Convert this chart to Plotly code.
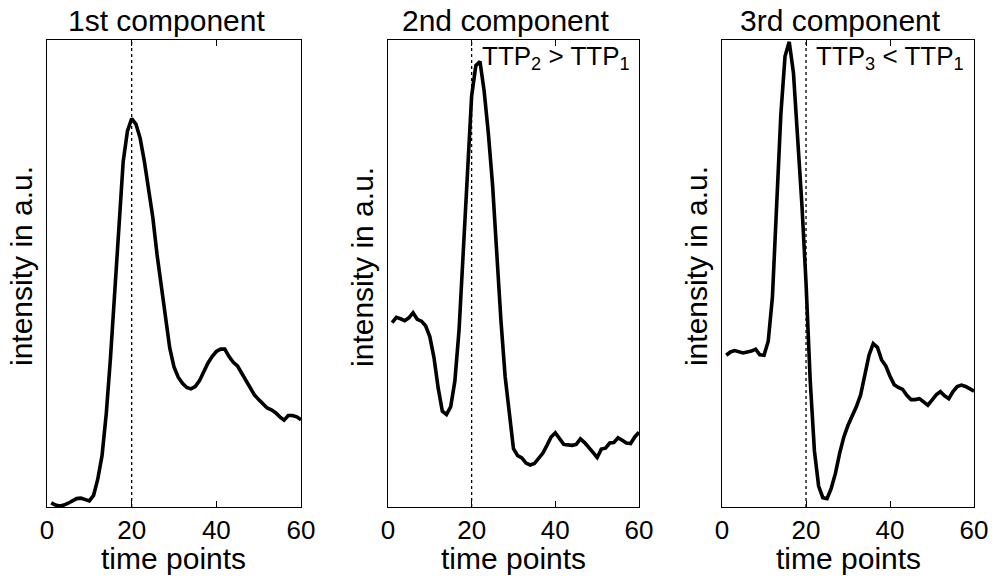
import plotly.graph_objects as go
from plotly.subplots import make_subplots

time_points = list(range(1, 61))

comp1 = [0.9, 0.4, 0.2, 0.4, 0.8, 1.3, 1.8, 1.9, 1.5, 1.3,
         2.5, 6, 11, 20, 32, 46, 60, 74, 80.5, 83.2,
         82, 79, 74, 68.5, 62, 54, 47, 40, 34, 30,
         27.8, 26.5, 25.6, 25.3, 25.8, 27, 29, 30.8, 32.2, 33.3,
         33.8, 33.8, 32.2, 31, 30.2, 28.6, 27, 25.3, 24, 23,
         22, 21.2, 20.8, 20.2, 19.3, 18.6, 19.6, 19.6, 19.3, 18.7]

comp2 = [39.5, 40.6, 40.3, 39.9, 40.5, 41.6, 40.2, 39.8, 38.8, 36.5,
         32, 25.5, 20.5, 19.8, 21.5, 27, 38, 55, 74, 88,
         94.5, 95.4, 89, 80, 69, 54, 40, 28, 19.5, 12.5,
         11, 10.5, 9.4, 9, 9.3, 10.3, 11.5, 13.2, 15, 15.9,
         14.5, 13.4, 13.3, 13.2, 13.4, 14.6, 13.8, 12.6, 11.7, 10.6,
         12.4, 12.6, 13.7, 13.8, 14.8, 14.3, 13.7, 13.6, 15, 16]

comp3 = [32.5, 33.2, 33.5, 33.2, 33, 33.2, 33.4, 33.8, 32.6, 32.5,
         35.5, 45, 66, 84, 96.5, 99.6, 93, 80, 65, 48,
         27, 12, 4.5, 2.0, 1.8, 4, 7.2, 11.5, 15, 17.5,
         19.5, 21.5, 24, 28.5, 32.5, 35, 34.2, 31.5, 30.2, 28,
         26.2, 25.6, 25.2, 23.9, 23, 23, 23.2, 22.5, 21.8, 22.9,
         24, 24.7, 23.8, 23.2, 24.7, 25.8, 26.1, 25.8, 25.3, 24.8]

titles = ["1st component", "2nd component", "3rd component"]
notes = [None, "TTP<sub>2</sub> > TTP<sub>1</sub>", "TTP<sub>3</sub> < TTP<sub>1</sub>"]
reference_time = 20
x_ticks = [0, 20, 40, 60]
x_label = "time points"
y_label = "intensity in a.u."

FONT = "Liberation Sans, Arial, Helvetica, sans-serif"

fig = make_subplots(rows=1, cols=3, shared_yaxes=False)

domains = [[0.0, 0.274], [0.3678, 0.6386], [0.7282, 1.0]]
series = [comp1, comp2, comp3]

for i, ys in enumerate(series):
    col = i + 1
    fig.add_trace(go.Scatter(x=time_points, y=ys, mode="lines",
                             line=dict(color="black", width=3.6),
                             showlegend=False, hoverinfo="skip"),
                  row=1, col=col)
    xa = "x" if col == 1 else f"x{col}"
    ya = "y" if col == 1 else f"y{col}"
    fig.add_shape(type="line", x0=reference_time, x1=reference_time,
                  y0=0, y1=1, xref=xa, yref=f"{ya} domain",
                  line=dict(color="black", width=1.3, dash="dot"))
    fig.update_xaxes(row=1, col=col, domain=domains[i], range=[0, 60],
                     tickvals=x_ticks, ticks="inside", ticklen=6,
                     tickcolor="black", tickwidth=1, showline=True,
                     linecolor="black", linewidth=1, mirror="ticks",
                     showgrid=False, zeroline=False, automargin=False,
                     tickfont=dict(family=FONT, size=26, color="black"))
    fig.update_yaxes(row=1, col=col, range=[0, 100], showticklabels=False,
                     ticks="", showline=True, linecolor="black", linewidth=1,
                     mirror=True, showgrid=False, zeroline=False,
                     automargin=False)
    # titles
    fig.add_annotation(text=titles[i], xref=f"{xa} domain", yref=f"{ya} domain",
                       x=0.47, y=1, xanchor="center", yanchor="bottom",
                       yshift=1, showarrow=False,
                       font=dict(family=FONT, size=30, color="black"))
    # x label
    fig.add_annotation(text=x_label, xref=f"{xa} domain", yref=f"{ya} domain",
                       x=0.5, y=0, xanchor="center", yanchor="top",
                       yshift=-33, showarrow=False,
                       font=dict(family=FONT, size=30, color="black"))
    # y label
    fig.add_annotation(text=y_label, xref=f"{xa} domain", yref=f"{ya} domain",
                       x=0, y=0.5, xanchor="right", yanchor="middle",
                       xshift=-7, yshift=7, textangle=-90, showarrow=False,
                       font=dict(family=FONT, size=30, color="black"))
    if notes[i]:
        fig.add_annotation(text=notes[i], xref=xa, yref=f"{ya} domain",
                           x=reference_time, y=1, xanchor="left", yanchor="top",
                           xshift=8, yshift=1, showarrow=False,
                           font=dict(family=FONT, size=26, color="black"))

fig.update_layout(width=995, height=578,
                  margin=dict(l=47, r=21, t=40, b=71, autoexpand=False),
                  plot_bgcolor="white", paper_bgcolor="white",
                  font=dict(family=FONT, color="black"))

fig.write_html("out.html", config={"displayModeBar": False},
               post_script="document.body.style.margin='0px';document.body.style.overflow='hidden';")
